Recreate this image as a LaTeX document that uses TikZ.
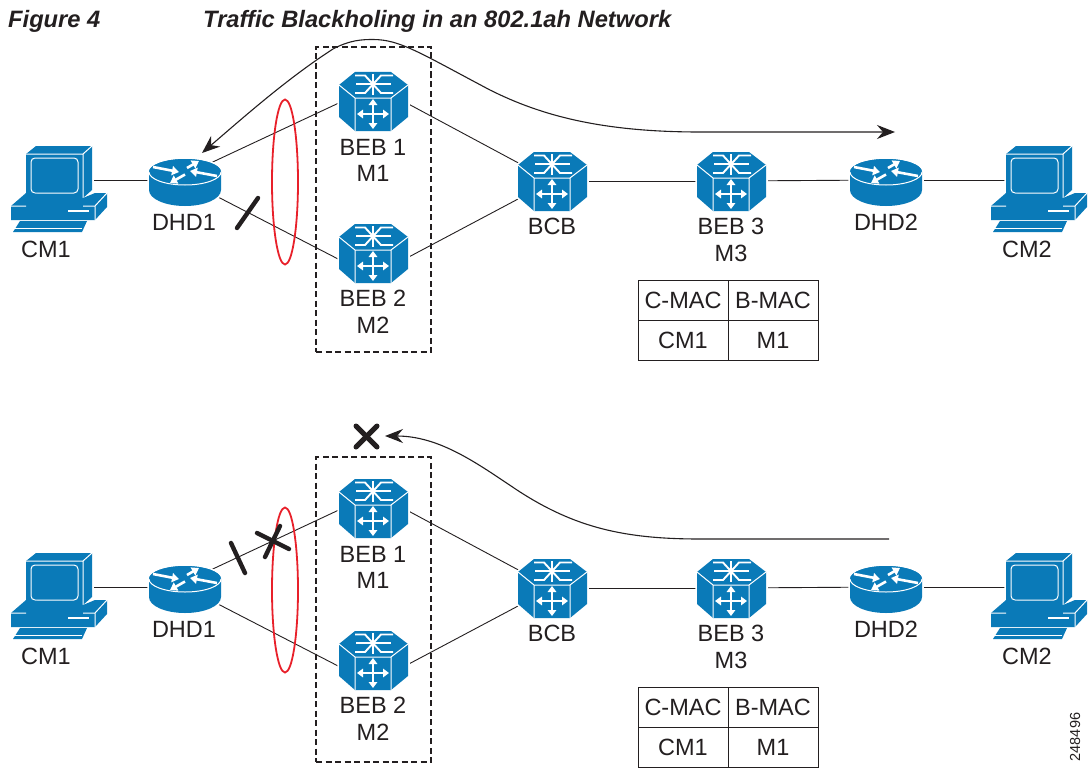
\documentclass[tikz,border=0pt]{standalone}
\usepackage{fontspec}
\setmainfont{Liberation Sans}
\usetikzlibrary{arrows.meta,shapes.geometric}
\definecolor{cisco}{HTML}{0A7AB8}
\definecolor{ink}{HTML}{231F20}
\definecolor{loop}{HTML}{E8202A}
\tikzset{
  anchorbox/.style={inner sep=0pt,minimum size=1pt},
  lab/.style={font=\fontsize{23.5}{25}\selectfont,text=ink,inner sep=0pt,anchor=center},
  link/.style={draw=ink,line width=0.9pt},
  flow/.style={draw=ink,line width=1.1pt,-{Stealth[length=18pt,width=14pt,inset=6pt]}},
  flowboth/.style={draw=ink,line width=1.1pt,{Stealth[length=18pt,width=14pt,inset=6pt]}-{Stealth[length=18pt,width=14pt,inset=6pt]}},
  mark stroke/.style={draw=ink,line width=4.4pt,line cap=round},
  redloop/.style={draw=loop,line width=1.8pt},
  tcell/.style={draw=ink,line width=0.9pt,minimum height=40pt,inner sep=0pt,font=\fontsize{23.5}{25}\selectfont,text=ink},
  dashbox/.style={draw=ink,line width=1.1pt,dash pattern=on 6pt off 3.5pt},
  halo/.style={fill=cisco,preaction={draw=white,line width=3.5pt}},
  wl/.style={draw=white,line width=1pt},
  wa/.style={draw=white,line width=2.6pt,-{Triangle[length=7pt,width=9pt]}},
  wt/.style={draw=white,line width=2pt,-{Triangle[length=6pt,width=8.5pt]}},
  pics/pc/.style={code={
    \path[halo] (-37,-33) -- (-27,-41) -- (29,-41) -- (29,3) -- (20,11) -- (-37,11) -- cycle;
    \draw[wl] (-37,-33) -- (20,-33) -- (20,11) (20,-33) -- (29,-41);
    \draw[wl,rounded corners=4pt] (-32,-29) rectangle (15,6);
    \fill[cisco] (-52,19) -- (-37,6) -- (20,11) -- (32,6) -- (44,6) -- (44,20) -- (32,33) -- (-52,33) -- cycle;
    \draw[wl] (-52,19) -- (-37,19) (20,19) -- (32,19) -- (44,6) (32,19) -- (32,33);
    \draw[wl,line width=1.8pt] (5,24) -- (26,24);
    \fill[cisco] (-50,45) -- (-43,34) -- (24,34) -- (19,45) -- cycle;
    \draw[wl,line width=0.8pt] (-50,41) -- (19,41);
  }},
  pics/router/.style={code={
    \path[halo] (-36,0) -- (-36,18) arc[start angle=180,end angle=0,x radius=36,y radius=16] -- (36,0) arc[start angle=0,end angle=-180,x radius=36,y radius=13] -- cycle;
    \fill[cisco] (0,0) ellipse[x radius=36,y radius=13];
    \draw[wl] (-36,0) arc[start angle=180,end angle=0,x radius=36,y radius=13];
    \draw[wa] (-32,-5) -- (-6,0);
    \draw[wa] (2,-4) -- (14,-11);
    \draw[wa] (32,4) -- (5,-1);
    \draw[wa] (0,2.5) -- (-15,11);
  }},
  pics/hexsw/.style={code={
    \path[halo] (-34,-16) -- (-18,-29) -- (18,-29) -- (35,-16) -- (35,16) -- (18,30) -- (-18,30) -- (-34,16) -- cycle;
    \draw[wl] (-34,-16) -- (-18,-3) -- (18,-3) -- (35,-16) (-18,-3) -- (-18,30) (18,-3) -- (18,30);
    \draw[wl,line width=1.9pt] (-18,-25.5) -- (-8,-25.5) -- (8,-8) -- (20,-8);
    \draw[wl,line width=1.9pt] (-18,-8) -- (-8,-8) -- (8,-25.5) -- (20,-25.5);
    \draw[wl,line width=1.9pt] (0,-27) -- (0,-6) (-17,-17) -- (18,-17);
    \draw[wt] (0,13) -- (16,13);
    \draw[wt] (0,13) -- (-16,13);
    \draw[wt] (0,13) -- (0,28);
    \draw[wt] (0,13) -- (0,-2);
  }},
}
\newcommand{\drawpanel}[1]{%
  \node[anchorbox] (#1cmA) at (63,187) {};
  \node[anchorbox] (#1dhdA) at (185,172) {};
  \node[anchorbox] (#1bebA) at (373,101) {};
  \node[anchorbox] (#1bebB) at (373,253) {};
  \node[anchorbox] (#1bcb) at (552,181) {};
  \node[anchorbox] (#1bebC) at (731,181) {};
  \node[anchorbox] (#1dhdB) at (886,172) {};
  \node[anchorbox] (#1cmB) at (1043,187) {};
  \draw[link] ([yshift=7pt]#1cmA.center) -- ([yshift=-8pt]#1dhdA.center);
  \draw[link] ([yshift=-3pt]#1dhdA.center) -- ([yshift=14pt]#1bebA.center);
  \draw[link] ([yshift=-8pt]#1dhdA.center) -- ([yshift=-24pt]#1bebB.center);
  \draw[link] ([yshift=16pt]#1bebA.center) -- (#1bcb.center);
  \draw[link] ([yshift=-23pt]#1bebB.center) -- (#1bcb.center);
  \draw[link] (#1bcb.center) -- (#1bebC.center);
  \draw[link] (#1bebC.center) -- ([yshift=-8pt]#1dhdB.center);
  \draw[link] ([yshift=-8pt]#1dhdB.center) -- ([yshift=7pt]#1cmB.center);
  \pic at (#1cmA.center) {pc};
  \pic at (#1cmB.center) {pc};
  \pic at (#1dhdA.center) {router};
  \pic at (#1dhdB.center) {router};
  \pic at (#1bebA.center) {hexsw};
  \pic at (#1bebB.center) {hexsw};
  \pic at (#1bcb.center) {hexsw};
  \pic at (#1bebC.center) {hexsw};
  \node[lab] (#1lCMa) at (46,249) {CM1};
  \node[lab] (#1lDa) at (184,222) {DHD1};
  \node[lab] (#1lBa) at (373,147) {BEB 1};
  \node[lab] (#1lMa) at (373,173) {M1};
  \node[lab] (#1lBb) at (373,298) {BEB 2};
  \node[lab] (#1lMb) at (373,325) {M2};
  \node[lab] (#1lBCB) at (552,226) {BCB};
  \node[lab] (#1lBc) at (731,226) {BEB 3};
  \node[lab] (#1lMc) at (731,253) {M3};
  \node[lab] (#1lDb) at (886,222) {DHD2};
  \node[lab] (#1lCMb) at (1027,249) {CM2};
  \node[tcell,minimum width=90pt] (#1tA) at (683,300) {C-MAC};
  \node[tcell,minimum width=90pt] (#1tB) at (773,300) {B-MAC};
  \node[tcell,minimum width=90pt] (#1tC) at (683,340) {CM1};
  \node[tcell,minimum width=90pt] (#1tD) at (773,340) {M1};
}
\begin{document}
\begin{tikzpicture}[x=1pt,y=-1pt]
\path[use as bounding box] (0,0) rectangle (1092,768);
\node[anchor=west,inner sep=0pt,font=\fontsize{23.7}{25}\selectfont\bfseries\itshape,text=ink] (figno) at (8,21) {Figure 4};
\node[anchor=west,inner sep=0pt,font=\fontsize{23.7}{25}\selectfont\bfseries\itshape,text=ink] (figtitle) at (203,21) {Traffic Blackholing in an 802.1ah Network};
\drawpanel{u}
\begin{scope}[shift={(0,407)}]
\drawpanel{l}
\end{scope}
% upper extras
\node[dashbox,draw,minimum width=115pt,minimum height=305pt,inner sep=0pt] (boxu) at (373.5,199.5) {};
\node[ellipse,redloop,minimum width=26pt,minimum height=165pt,inner sep=0pt] (ellu) at (285,182) {};
\draw[mark stroke] (237,228) -- (258,198);
\coordinate (fa) at (202,153);
\coordinate (fb) at (895,132);
\draw[flowboth] (fa) .. controls (245,116) and (288,78) .. (333,49) .. controls (350,40) and (362,39.5) .. (373,39.5) .. controls (400,39.5) and (420,53) .. (490,90) .. controls (540,115) and (600,132) .. (700,132) -- (fb);
% lower extras
\node[dashbox,draw,minimum width=115pt,minimum height=305pt,inner sep=0pt] (boxl) at (373.5,609.5) {};
\node[ellipse,redloop,minimum width=26pt,minimum height=165pt,inner sep=0pt] (elll) at (285,590) {};
\draw[mark stroke] (231,543) -- (245,573);
\draw[mark stroke] (257,533) -- (289,549);
\draw[mark stroke] (280,526) -- (265,557);
\draw[mark stroke,line width=5pt] (356,426) -- (377,447);
\draw[mark stroke,line width=5pt] (377,426) -- (356,447);
\coordinate (ga) at (889,539);
\coordinate (gb) at (385,436);
\draw[flow] (ga) -- (700,539) .. controls (625,539) and (575,528) .. (517,490) .. controls (478,464) and (440,436) .. (gb);
\node[rotate=90,inner sep=0pt,font=\fontsize{14.5}{16}\selectfont,text=ink] (fignum) at (1075,737) {248496};
\end{tikzpicture}
\end{document}
